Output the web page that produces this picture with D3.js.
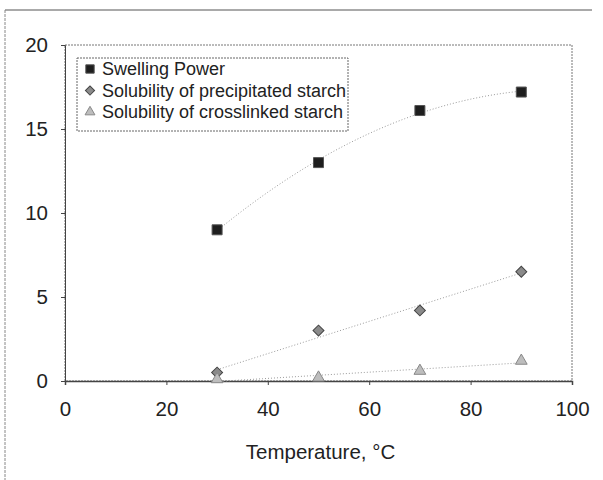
<!DOCTYPE html>
<html lang="en">
<head>
<meta charset="UTF-8">
<script src="https://d3js.org/d3.v7.min.js"></script>
<title>Swelling power and solubility</title>
<style>
  body { margin: 0; background: #fff; }
  svg { display: block; font-family: "Liberation Sans", Arial, sans-serif; }
  .axis text { font-size: 20.5px; fill: #222; }
  .axis path, .axis line { stroke: #444; }
</style>
</head>
<body>
<script>
// data
var temps = [30, 50, 70, 90]
var swelling = [9.0, 13.0, 16.1, 17.2]
var solPrecip = [0.5, 3.0, 4.2, 6.5]
var solCross = [0.1, 0.2, 0.6, 1.2]
var seriesNames = ["Swelling Power", "Solubility of precipitated starch", "Solubility of crosslinked starch"]
var xTicks = [0, 20, 40, 60, 80, 100]
var yTicks = [0, 5, 10, 15, 20]

var width = 603, height = 480
var plot = { left: 65, right: 572, top: 45, bottom: 381 }

var svg = d3.select("body").append("svg")
    .attr("width", width)
    .attr("height", height)

// outer frame (only top and left visible in the scan)
svg.append("line").attr("x1", 5).attr("y1", 10).attr("x2", 592).attr("y2", 10)
    .attr("stroke", "#555").attr("stroke-width", 1)
svg.append("line").attr("x1", 5).attr("y1", 10).attr("x2", 5).attr("y2", 480)
    .attr("stroke", "#888").attr("stroke-width", 1).attr("stroke-dasharray", "3,1")

var x = d3.scaleLinear().domain([0, 100]).range([plot.left, plot.right])
var y = d3.scaleLinear().domain([0, 20]).range([plot.bottom, plot.top])

// plot border
svg.append("rect")
    .attr("x", plot.left).attr("y", plot.top)
    .attr("width", plot.right - plot.left).attr("height", plot.bottom - plot.top)
    .attr("fill", "none").attr("stroke", "#777").attr("stroke-width", 1)
    .attr("stroke-dasharray", "2,1")

var xAxis = d3.axisBottom(x).tickValues(xTicks).tickSize(4).tickPadding(16)
var yAxis = d3.axisLeft(y).tickValues(yTicks).tickSize(4).tickPadding(13)

svg.append("g").attr("class", "axis")
    .attr("transform", "translate(0," + plot.bottom + ")")
    .call(xAxis)
    .call(function (g) { g.select(".domain").attr("stroke", "#333").attr("stroke-width", 1.5) })
svg.append("g").attr("class", "axis")
    .attr("transform", "translate(" + plot.left + ",0)")
    .call(yAxis)
    .call(function (g) { g.select(".domain").attr("stroke", "#666") })

svg.append("text")
    .attr("x", (plot.left + plot.right) / 2 + 2)
    .attr("y", 459)
    .attr("text-anchor", "middle")
    .attr("font-size", 20.5)
    .attr("fill", "#222")
    .text("Temperature, °C")

// least squares polynomial fit for the trendlines
function polyFit(xs, ys, order) {
    var n = order + 1
    var A = [], b = []
    for (var i = 0; i < n; i++) {
        A.push([])
        for (var j = 0; j < n; j++) {
            A[i].push(d3.sum(xs, function (v) { return Math.pow(v, i + j) }))
        }
        b.push(d3.sum(xs, function (v, k) { return ys[k] * Math.pow(v, i) }))
    }
    // gaussian elimination
    for (var c = 0; c < n; c++) {
        for (var r = c + 1; r < n; r++) {
            var f = A[r][c] / A[c][c]
            for (var k = c; k < n; k++) A[r][k] -= f * A[c][k]
            b[r] -= f * b[c]
        }
    }
    var coef = new Array(n)
    for (var r2 = n - 1; r2 >= 0; r2--) {
        var s = b[r2]
        for (var k2 = r2 + 1; k2 < n; k2++) s -= A[r2][k2] * coef[k2]
        coef[r2] = s / A[r2][r2]
    }
    return function (v) { return d3.sum(coef, function (cf, p) { return cf * Math.pow(v, p) }) }
}

var series = [
    { name: seriesNames[0], values: swelling, order: 2, symbol: d3.symbolSquare, size: 100, rot: 0, fill: "#1e1e1e", stroke: "#555" },
    { name: seriesNames[1], values: solPrecip, order: 1, symbol: d3.symbolSquare, size: 60, rot: 45, fill: "#8a8a8a", stroke: "#444" },
    { name: seriesNames[2], values: solCross, order: 1, symbol: d3.symbolTriangle, size: 60, rot: 0, fill: "#bdbdbd", stroke: "#888" }
]

var trendLine = d3.line().x(function (d) { return x(d[0]) }).y(function (d) { return y(d[1]) })

series.forEach(function (s) {
    var fit = polyFit(temps, s.values, s.order)
    var pts = d3.range(30, 90.5, 1).map(function (t) { return [t, fit(t)] })
    svg.append("path")
        .attr("d", trendLine(pts))
        .attr("fill", "none")
        .attr("stroke", "#9a9a9a")
        .attr("stroke-width", 1)
        .attr("stroke-dasharray", "1,2")
})

series.forEach(function (s) {
    svg.selectAll(null)
        .data(s.values)
        .enter()
        .append("path")
        .attr("d", d3.symbol().type(s.symbol).size(s.size))
        .attr("transform", function (d, i) { return "translate(" + x(temps[i]) + "," + y(d) + ") rotate(" + s.rot + ")" })
        .attr("fill", s.fill)
        .attr("stroke", s.stroke)
        .attr("stroke-width", 1)
})

// legend
var legend = svg.append("g")
legend.append("rect")
    .attr("x", 77).attr("y", 58).attr("width", 271).attr("height", 73)
    .attr("fill", "#fff").attr("stroke", "#666").attr("stroke-width", 1)
    .attr("stroke-dasharray", "2,1")

series.forEach(function (s, i) {
    var cy = 69 + i * 21.5
    legend.append("path")
        .attr("d", d3.symbol().type(s.symbol).size(s.size * 0.7))
        .attr("transform", "translate(90," + cy + ") rotate(" + s.rot + ")")
        .attr("fill", s.fill)
        .attr("stroke", s.stroke)
    legend.append("text")
        .attr("x", 102).attr("y", cy + 6)
        .attr("font-size", 18)
        .attr("fill", "#222")
        .text(s.name)
})
</script>
</body>
</html>
